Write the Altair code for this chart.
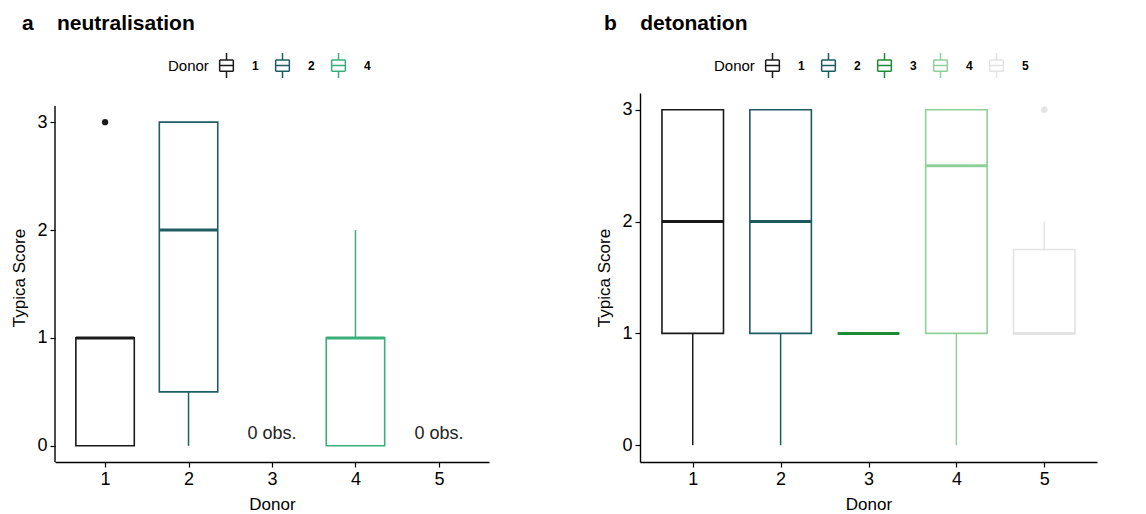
import altair as alt
import pandas as pd

FONT = "Liberation Sans"

# ---- Panel a: neutralisation ----
a_donors = ["1", "2", "4"]
a_pos = [1, 2, 4]
a_lower = [0, 0, 0]
a_q1 = [0, 0.5, 0]
a_median = [1, 2, 1]
a_q3 = [1, 3, 1]
a_upper = [1, 3, 2]
a_colors = ["#1a1a1a", "#1f5d63", "#3aaf7a"]
a_out_donor = ["1"]
a_out_pos = [1]
a_out_val = [3]
a_empty_pos = [3, 5]
a_empty_label = ["0 obs.", "0 obs."]

# ---- Panel b: detonation ----
b_donors = ["1", "2", "3", "4", "5"]
b_pos = [1, 2, 3, 4, 5]
b_lower = [0, 0, 1, 0, 1]
b_q1 = [1, 1, 1, 1, 1]
b_median = [2, 2, 1, 2.5, 1]
b_q3 = [3, 3, 1, 3, 1.75]
b_upper = [3, 3, 1, 3, 2]
b_colors = ["#1a1a1a", "#1d5a60", "#1e8b34", "#8fd09a", "#e3e3e3"]
b_out_donor = ["5"]
b_out_pos = [5]
b_out_val = [3]

x_ticks = [1, 2, 3, 4, 5]
y_ticks = [0, 1, 2, 3]

# open-segment boxplot glyph (no fillable area)
BOX_PATH = ("M-0.55,-0.45H0.55 M0.55,-0.45V0.45 M0.55,0.45H-0.55 M-0.55,0.45V-0.45 "
            "M-0.55,0H0.55 M0,-0.45V-1 M0,0.45V1")


def panel(donors, pos, lower, q1, med, q3, upper, colors, out_d, out_p, out_v,
          width, ydomain, title, title_dx, legend_x, manual_axis_top=None, empty=None):
    df = pd.DataFrame({"Donor": donors, "pos": pos, "lower": lower, "q1": q1,
                       "median": med, "q3": q3, "upper": upper})
    base = alt.Chart(df).transform_calculate(xl="datum.pos - 0.35", xr="datum.pos + 0.35")
    xs = alt.Scale(domain=[0.4, 5.6], nice=False, zero=False)
    ys = alt.Scale(domain=ydomain, nice=False, zero=False)
    stroke_scale = alt.Scale(domain=donors, range=colors)
    xaxis = alt.Axis(values=x_ticks, format="d", title="Donor", grid=False)
    yaxis = alt.Axis(values=y_ticks, format="d", title="Typica Score", grid=False,
                     domain=manual_axis_top is None)

    legend = alt.Legend(orient="none", legendX=legend_x, legendY=-41, direction="horizontal",
                        title="Donor", titleOrient="left", titleFontSize=15,
                        titleFontWeight="normal", titleFont=FONT, titleColor="black",
                        labelFontSize=12, labelFontWeight="bold", labelFont=FONT,
                        labelColor="black", symbolType=BOX_PATH, symbolSize=620,
                        symbolStrokeWidth=1.5, symbolFillColor="white",
                        labelOffset=12, columnPadding=10, titlePadding=4)

    whisk_lo = base.mark_rule(strokeWidth=1.5).encode(
        x=alt.X("pos:Q", scale=xs, axis=xaxis),
        y=alt.Y("lower:Q", scale=ys, axis=yaxis),
        y2="q1:Q",
        stroke=alt.Stroke("Donor:N", scale=stroke_scale, legend=legend),
    )
    whisk_hi = base.mark_rule(strokeWidth=1.5).encode(
        x="pos:Q", y="q3:Q", y2="upper:Q", stroke="Donor:N",
    )
    box = base.mark_rect(fill="white", strokeWidth=1.6).encode(
        x="xl:Q", x2="xr:Q", y="q1:Q", y2="q3:Q", stroke="Donor:N",
    )
    median = base.mark_rule(strokeWidth=3).encode(
        x="xl:Q", x2="xr:Q", y="median:Q", stroke="Donor:N",
    )
    odf = pd.DataFrame({"Donor": out_d, "pos": out_p, "val": out_v})
    outl = alt.Chart(odf).mark_circle(size=40, opacity=1).encode(
        x="pos:Q", y="val:Q",
        fill=alt.Fill("Donor:N", scale=alt.Scale(domain=donors, range=colors), legend=None),
    )
    layers = [whisk_lo, whisk_hi, box, median, outl]
    if empty is not None:
        edf = pd.DataFrame({"pos": empty[0], "label": empty[1], "y": [0.11] * len(empty[0])})
        layers.append(alt.Chart(edf).mark_text(fontSize=18, font=FONT, color="#222222").encode(
            x="pos:Q", y="y:Q", text="label:N"))
    if manual_axis_top is not None:
        layers.append(alt.Chart(pd.DataFrame({"k": [0]})).mark_rule(color="black", strokeWidth=1.4).encode(
            x=alt.value(0), y=alt.value(manual_axis_top), y2=alt.value(369)))
    return alt.layer(*layers).properties(
        width=width, height=369,
        title=alt.TitleParams(title, anchor="start", frame="group", dx=title_dx,
                              fontSize=21, fontWeight="bold", font=FONT, color="black",
                              offset=18),
    )


pa = panel(a_donors, a_pos, a_lower, a_q1, a_median, a_q3, a_upper, a_colors,
           a_out_donor, a_out_pos, a_out_val, 434, [-0.15, 3.27],
           "a\u00a0\u00a0\u00a0\u00a0neutralisation", -33, 113,
           manual_axis_top=13, empty=(a_empty_pos, a_empty_label))
pb = panel(b_donors, b_pos, b_lower, b_q1, b_median, b_q3, b_upper, b_colors,
           b_out_donor, b_out_pos, b_out_val, 457, [-0.15, 3.15],
           "b\u00a0\u00a0\u00a0\u00a0detonation", -36, 74)

chart = alt.hconcat(pa, pb, spacing=106).resolve_scale(
    stroke="independent", fill="independent", x="independent", y="independent"
).resolve_legend(stroke="independent", fill="independent").properties(
    padding={"left": 2, "top": 5, "right": 5, "bottom": 5}
).configure_view(stroke=None).configure_axis(
    domainColor="black", domainWidth=1.4, tickColor="black", tickWidth=1.2, tickSize=5,
    labelColor="black", labelFontSize=18, labelFont=FONT, labelPadding=3,
    titleColor="black", titleFontSize=17, titleFont=FONT, titleFontWeight="normal",
    titlePadding=8,
)

chart.save("out.html", embed_options={"renderer": "svg", "actions": False})
